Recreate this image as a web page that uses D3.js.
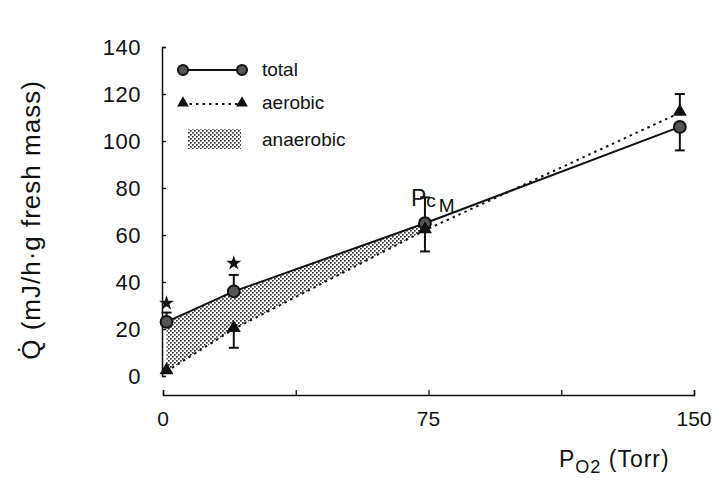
<!DOCTYPE html>
<meta charset="utf-8">
<style>
  body { margin: 0; background: #fff; }
  svg text { font-family: "Liberation Sans", Arial, sans-serif; fill: #111; }
</style>
<div id="chart"></div>
<script src="https://d3js.org/d3.v7.min.js"></script>
<script>
// P_O2 values (Torr) of the four measurements
const po2 = [1, 20, 74, 146];
// heat output, total and aerobic part
const total = [23, 36, 65, 106];
const aerobic = [2, 20, 62, 112];
// error bar ends (null = no bar drawn)
const totalErrEnd = [27, 43, 76, 96];
const aerobicErrEnd = [null, 12, 53, 120];
// significance stars
const starX = [1, 20];
const starY = [31, 48];
// axis ticks
const yTicks = [0, 20, 40, 60, 80, 100, 120, 140];
const xTicks = [0, 37.5, 75, 112.5, 150];
const xTickLabels = ["0", "75", "150"];

const width = 714, height = 484;

const svg = d3.select("#chart").append("svg")
  .attr("width", width)
  .attr("height", height);

const x = d3.scaleLinear().domain([0, 150]).range([163, 694]);
const y = d3.scaleLinear().domain([0, 140]).range([376, 47]);
const xAxisY = 395;

// stipple pattern for the anaerobic area
const defs = svg.append("defs");
const pat = defs.append("pattern")
  .attr("id", "stipple")
  .attr("width", 4).attr("height", 4)
  .attr("patternUnits", "userSpaceOnUse");
pat.append("rect").attr("width", 4).attr("height", 4).attr("fill", "#fff");
pat.append("rect").attr("width", 1.7).attr("height", 1.7).attr("fill", "#333");
pat.append("rect").attr("x", 2).attr("y", 2).attr("width", 1.7).attr("height", 1.7).attr("fill", "#333");

// Y axis
const yAxis = svg.append("g")
  .attr("transform", "translate(162,0)")
  .call(d3.axisRight(y).tickValues(yTicks).tickSize(4).tickFormat(""));
yAxis.select(".domain").attr("stroke", "#111").attr("stroke-width", 1.5);
yAxis.selectAll(".tick line").attr("stroke", "#111").attr("stroke-width", 1.3);
svg.append("g").selectAll("text")
  .data(yTicks)
  .join("text")
    .attr("x", 141)
    .attr("y", d => y(d))
    .attr("dy", "0.36em")
    .attr("text-anchor", "end")
    .attr("font-size", 22)
    .attr("letter-spacing", 0.5)
    .text(d => d);

// X axis
const xAxis = svg.append("g")
  .attr("transform", `translate(0,${xAxisY})`)
  .call(d3.axisTop(x).tickValues(xTicks).tickSize(5).tickFormat(""));
xAxis.select(".domain").attr("stroke", "#111").attr("stroke-width", 1.5);
xAxis.selectAll(".tick line").attr("stroke", "#111").attr("stroke-width", 1.3);
svg.append("g").selectAll("text")
  .data(xTickLabels)
  .join("text")
    .attr("x", d => x(+d))
    .attr("y", xAxisY + 31)
    .attr("text-anchor", "middle")
    .attr("font-size", 21)
    .text(d => d);

// axis titles
svg.append("text")
  .attr("transform", `translate(40,220) rotate(-90)`)
  .attr("text-anchor", "middle")
  .attr("font-size", 26)
  .attr("letter-spacing", 1)
  .text("Q\u0307 (mJ/h\u00b7g fresh mass)");

const xTitle = svg.append("text")
  .attr("x", 559)
  .attr("y", 467)
  .attr("font-size", 23)
  .attr("letter-spacing", 1);
xTitle.append("tspan").text("P");
xTitle.append("tspan").attr("font-size", 18).attr("dy", 6).text("O2");
xTitle.append("tspan").attr("dy", -6).text(" (Torr)");

// anaerobic area between total and aerobic up to Pc
const shadeIdx = [0, 1, 2];
const area = d3.area()
  .x(i => x(po2[i]))
  .y0(i => y(aerobic[i]))
  .y1(i => y(total[i]));
svg.append("path")
  .attr("d", area(shadeIdx))
  .attr("fill", "url(#stipple)");

// lines
const idx = d3.range(po2.length);
svg.append("path")
  .attr("d", d3.line().x(i => x(po2[i])).y(i => y(total[i]))(idx))
  .attr("fill", "none")
  .attr("stroke", "#111")
  .attr("stroke-width", 2);
svg.append("path")
  .attr("d", d3.line().x(i => x(po2[i])).y(i => y(aerobic[i]))(idx))
  .attr("fill", "none")
  .attr("stroke", "#111")
  .attr("stroke-width", 2)
  .attr("stroke-dasharray", "2.5,4");

// error bars
function errBars(vals, ends) {
  const g = svg.append("g").attr("stroke", "#111").attr("stroke-width", 2);
  idx.filter(i => ends[i] != null).forEach(i => {
    g.append("line")
      .attr("x1", x(po2[i])).attr("x2", x(po2[i]))
      .attr("y1", y(vals[i])).attr("y2", y(ends[i]));
    g.append("line")
      .attr("x1", x(po2[i]) - 5).attr("x2", x(po2[i]) + 5)
      .attr("y1", y(ends[i])).attr("y2", y(ends[i]));
  });
}
errBars(total, totalErrEnd);
errBars(aerobic, aerobicErrEnd);

// markers
const circleSym = d3.symbol().type(d3.symbolCircle).size(110);
const triSym = d3.symbol().type(d3.symbolTriangle).size(85);
svg.append("g").selectAll("path")
  .data(idx)
  .join("path")
    .attr("transform", i => `translate(${x(po2[i])},${y(total[i])})`)
    .attr("d", circleSym)
    .attr("fill", "#555")
    .attr("stroke", "#111")
    .attr("stroke-width", 2);
svg.append("g").selectAll("path")
  .data(idx)
  .join("path")
    .attr("transform", i => `translate(${x(po2[i])},${y(aerobic[i]) - 1})`)
    .attr("d", triSym)
    .attr("fill", "#111");

// stars
svg.append("g").selectAll("path")
  .data(starX)
  .join("path")
    .attr("transform", (d, i) => `translate(${x(d)},${y(starY[i])})`)
    .attr("d", d3.symbol().type(d3.symbolStar).size(70))
    .attr("fill", "#111");

// Pc M label
const pc = svg.append("text")
  .attr("x", x(po2[2]) - 14)
  .attr("y", y(total[2]) - 17)
  .attr("font-size", 23);
pc.append("tspan").text("P");
pc.append("tspan").attr("font-size", 19).attr("dy", 1).text("c");
pc.append("tspan").attr("font-size", 19).attr("dy", 5).attr("dx", 3).text("M");

// legend
const lg = svg.append("g");
const lgCircle = d3.symbol().type(d3.symbolCircle).size(80);
const lgTri = d3.symbol().type(d3.symbolTriangle).size(60);
lg.append("line").attr("x1", 183).attr("x2", 242).attr("y1", 70).attr("y2", 70)
  .attr("stroke", "#111").attr("stroke-width", 2);
lg.selectAll(".lc").data([183, 242]).join("path")
  .attr("transform", d => `translate(${d},70)`)
  .attr("d", lgCircle).attr("fill", "#555").attr("stroke", "#111").attr("stroke-width", 2);
lg.append("line").attr("x1", 183).attr("x2", 242).attr("y1", 104).attr("y2", 104)
  .attr("stroke", "#111").attr("stroke-width", 2).attr("stroke-dasharray", "2.5,4");
lg.selectAll(".lt").data([183, 242]).join("path")
  .attr("transform", d => `translate(${d},103)`)
  .attr("d", lgTri).attr("fill", "#111");
lg.append("rect").attr("x", 188).attr("y", 129).attr("width", 53).attr("height", 20)
  .attr("fill", "url(#stipple)");
const lgText = ["total", "aerobic", "anaerobic"];
const lgY = [76, 109, 146];
lg.selectAll("text").data(lgText).join("text")
  .attr("x", 262)
  .attr("y", (d, i) => lgY[i])
  .attr("font-size", 19)
  .text(d => d);
</script>
